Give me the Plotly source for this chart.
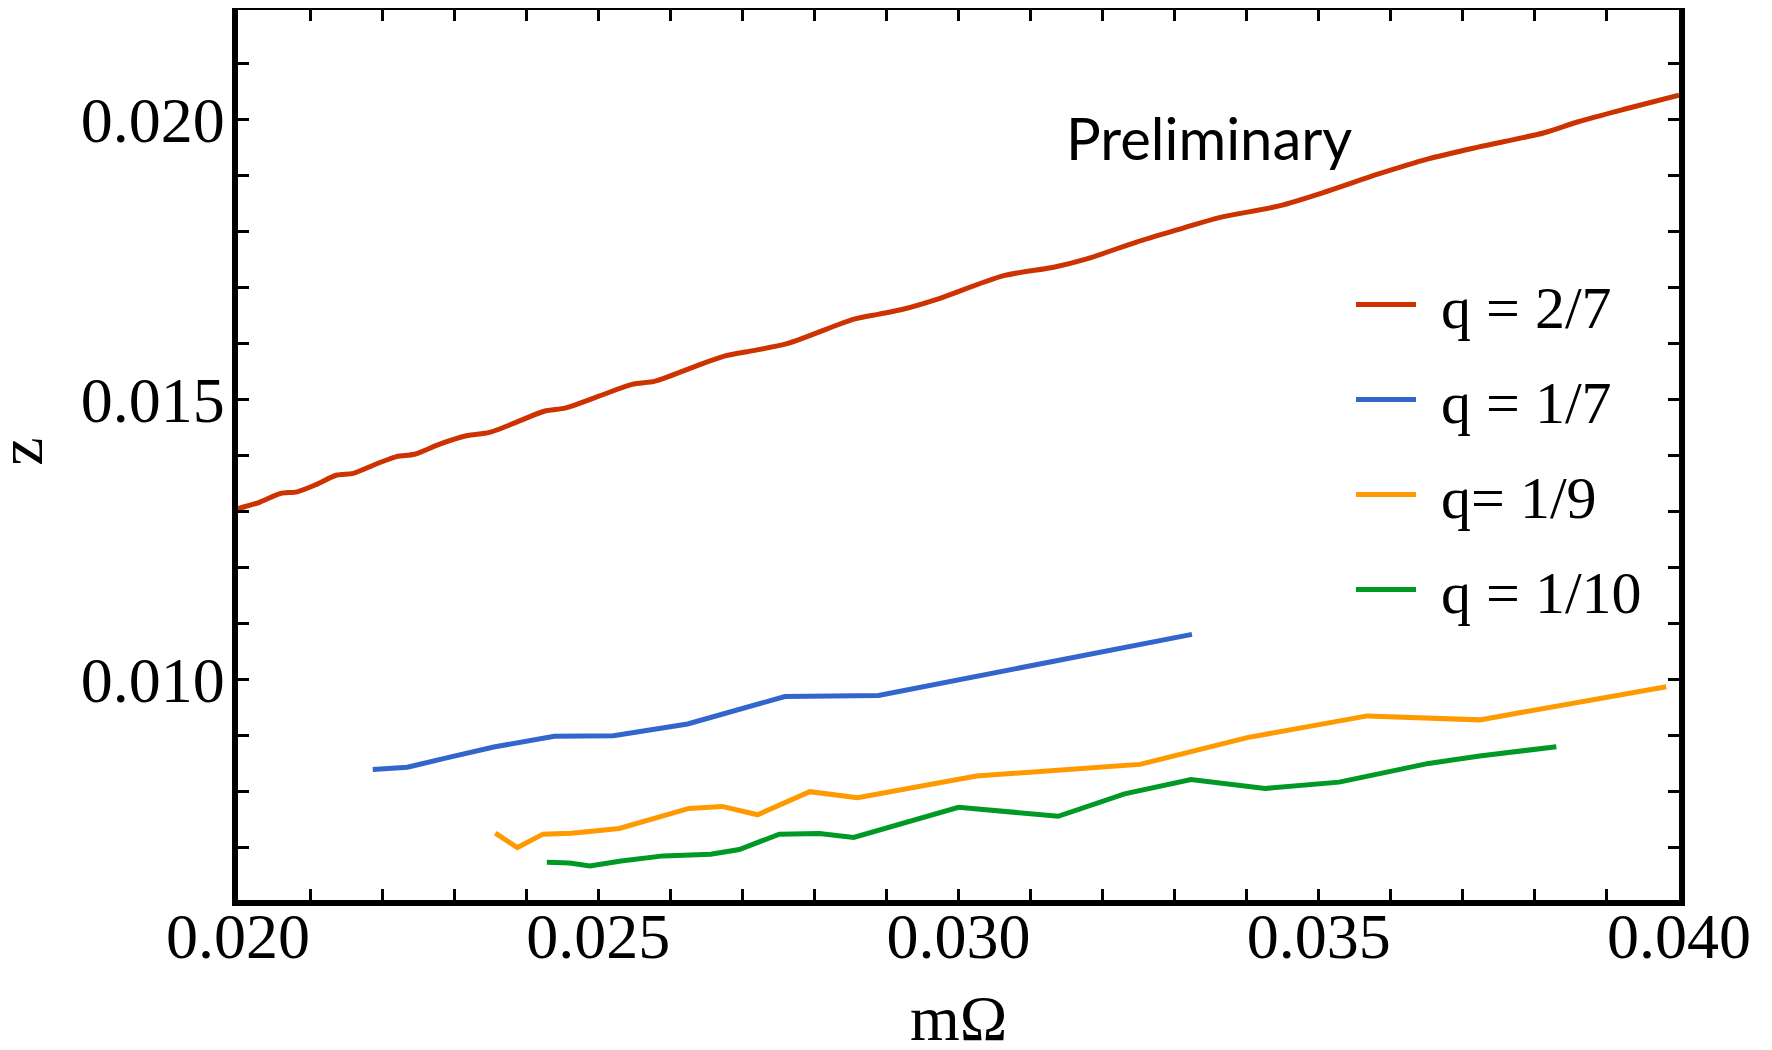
import plotly.graph_objects as go

# q = 2/7 (smooth curve)
x_q27 = [0.0200, 0.02029, 0.02059, 0.02082, 0.02110, 0.02137, 0.02160, 0.02192, 0.02220, 0.02245,
         0.02280, 0.02317, 0.02349, 0.02386, 0.02425, 0.02455, 0.02501, 0.02547, 0.02579, 0.02630,
         0.02676, 0.02713, 0.02763, 0.02855, 0.02888, 0.02920, 0.02971, 0.03063, 0.03132, 0.03178,
         0.03247, 0.03307, 0.03362, 0.03445, 0.03514, 0.03583, 0.03652, 0.03721, 0.03813, 0.03859,
         0.03928, 0.04000]
z_q27 = [0.013054, 0.013162, 0.013323, 0.013353, 0.013491, 0.013653, 0.013683, 0.013850, 0.013982, 0.014024,
         0.014204, 0.014353, 0.014413, 0.014593, 0.014790, 0.014850, 0.015060, 0.015269, 0.015329, 0.015569,
         0.015778, 0.015868, 0.016000, 0.016434, 0.016520, 0.016601, 0.016792, 0.017210, 0.017360, 0.017509,
         0.017810, 0.018040, 0.018246, 0.018455, 0.018725, 0.019024, 0.019293, 0.019503, 0.019760, 0.019952,
         0.020192, 0.020430]

# q = 1/7
x_q17 = [0.02187, 0.02235, 0.02291, 0.02355, 0.02439, 0.02521, 0.02624, 0.02759, 0.02889, 0.03324]
z_q17 = [0.008397, 0.008440, 0.008610, 0.008800, 0.008990, 0.009000, 0.009210, 0.009700, 0.009720, 0.010810]

# q = 1/9
x_q19 = [0.023571, 0.023878, 0.024233, 0.024630, 0.025291, 0.025794, 0.026259, 0.026720, 0.027212, 0.027937,
         0.028598, 0.030248, 0.032518, 0.034007, 0.035674, 0.037234, 0.039823]
z_q19 = [0.007263, 0.007006, 0.007245, 0.007263, 0.007346, 0.007531, 0.007704, 0.007740, 0.007591, 0.008003,
         0.007896, 0.008281, 0.008490, 0.008967, 0.009355, 0.009284, 0.009875]

# q = 1/10
x_q110 = [0.024286, 0.024603, 0.024884, 0.025317, 0.025899, 0.026561, 0.026958, 0.027513, 0.028069, 0.028545,
          0.030000, 0.031383, 0.032305, 0.033227, 0.034255, 0.035284, 0.036525, 0.037234, 0.038298]
z_q110 = [0.006743, 0.006731, 0.006678, 0.006767, 0.006857, 0.006887, 0.006970, 0.007245, 0.007257, 0.007185,
          0.007725, 0.007564, 0.007964, 0.008221, 0.008060, 0.008173, 0.008507, 0.008639, 0.008806]

series_names = ["q = 2/7", "q = 1/7", "q= 1/9", "q = 1/10"]
colors = ["#CC3300", "#3366CC", "#FF9900", "#009926"]

x_range = [0.020, 0.040]
y_range = [0.00607, 0.02195]
x_ticks = [0.020, 0.025, 0.030, 0.035, 0.040]
x_ticklabels = ["0.020", "0.025", "0.030", "0.035", "0.040"]
y_ticks = [0.010, 0.015, 0.020]
y_ticklabels = ["0.010", "0.015", "0.020"]

PAD = "\u00a0\u200a"

fig = go.Figure()
# q = 1/7 is drawn against the label-carrying left axis (same range as the frame axis)
fig.add_trace(go.Scatter(x=x_q17, y=z_q17, mode="lines", name=PAD + series_names[1], legendgroup="b",
                         legendrank=2, xaxis="x", yaxis="y2", line=dict(color=colors[1], width=5)))
fig.add_trace(go.Scatter(x=x_q19, y=z_q19, mode="lines", name=PAD + series_names[2], legendgroup="c",
                         legendrank=3, line=dict(color=colors[2], width=5)))
fig.add_trace(go.Scatter(x=x_q110, y=z_q110, mode="lines", name=PAD + series_names[3], legendgroup="d",
                         legendrank=4, line=dict(color=colors[3], width=5)))
# q = 2/7 is drawn against the label-carrying bottom axis (same range as the frame axis)
fig.add_trace(go.Scatter(x=x_q27, y=z_q27, mode="lines", name=PAD + series_names[0], legendgroup="a",
                         legendrank=1, xaxis="x2", yaxis="y",
                         line=dict(color=colors[0], width=5, shape="spline", smoothing=0.8)))

serif = "Liberation Serif"
tickfont = dict(family=serif, size=64, color="black")
axis_common = dict(
    showgrid=False, zeroline=False, automargin=False,
    showline=True, linecolor="black", linewidth=5.5, mirror="allticks",
    ticks="inside", ticklen=11, tickwidth=3, tickcolor="black",
)
minor = dict(dtick=0.001, tick0=0.0, ticks="inside", ticklen=6, tickwidth=3, tickcolor="black")
label_axis = dict(ticks="inside", ticklen=11, tickcolor="rgba(0,0,0,0)",
                  showline=True, linecolor="rgba(0,0,0,0)", linewidth=5.5,
                  showgrid=False, zeroline=False, automargin=False, tickfont=tickfont)

fig.update_layout(
    # frame axes: lines and ticks only
    xaxis=dict(range=x_range, tickvals=x_ticks, showticklabels=False, minor=minor, **axis_common),
    yaxis=dict(range=y_range, tickvals=y_ticks, showticklabels=False, minor=minor, **axis_common),
    # label axes: same ranges, invisible lines/ticks, placed to set the label distance from the frame
    xaxis2=dict(overlaying="x", anchor="free", position=0.0242, side="bottom", range=x_range,
                tickvals=x_ticks, ticktext=x_ticklabels, **label_axis),
    yaxis2=dict(overlaying="y", anchor="free", position=0.0016, side="left", range=y_range,
                tickvals=y_ticks, ticktext=y_ticklabels, **label_axis),
)

# axis titles
fig.add_annotation(x=-0.1508, y=0.5034, xref="paper", yref="paper", text="z", textangle=-90,
                   showarrow=False, xanchor="center", yanchor="middle",
                   font=dict(family=serif, size=64, color="black"))
fig.add_annotation(x=0.5, y=-0.0906, xref="paper", yref="paper", text="mΩ",
                   showarrow=False, xanchor="center", yanchor="top",
                   font=dict(family=serif, size=64, color="black"))

fig.add_annotation(x=0.03348, y=0.019674, xref="x", yref="y", text="Preliminary", showarrow=False,
                   font=dict(family="Lato", size=58, color="black"))

fig.update_layout(
    width=1772, height=1050,
    margin=dict(l=230, r=101, t=2, b=158),
    paper_bgcolor="white", plot_bgcolor="white",
    legend=dict(x=0.7724, y=0.7202, xanchor="left", yanchor="top", bgcolor="rgba(0,0,0,0)",
                font=dict(family=serif, size=60, color="black"), tracegroupgap=14, itemwidth=60),
    showlegend=True,
)

fig.write_html("out.html")
